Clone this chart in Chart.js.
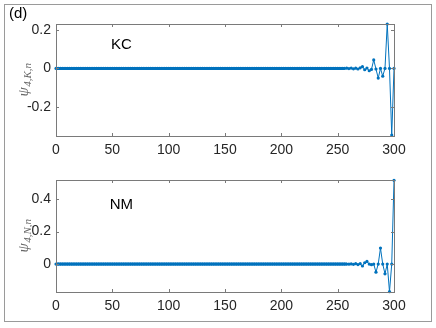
<!DOCTYPE html>
<html lang="en"><head>
  <meta charset="UTF-8">
  <title>psi 4 KC / NM</title>
  <script src="https://cdn.jsdelivr.net/npm/chart.js"></script>
  <style>
    body { margin: 0; background: #fff; }
    #frame {
      position: absolute; left: 4px; top: 4px; width: 426px; height: 316px;
      border: 1px solid #9a9a9a;
    }
    #tag {
      position: absolute; left: 9px; top: 4px;
      font: 15px "Liberation Sans", Arial, sans-serif; color: #000;
    }
    canvas { position: absolute; left: 0; }
    #c1 { top: 0; }
    #c2 { top: 160px; }
  </style>
</head><body>
<div id="frame"></div>
<canvas id="c1" width="436" height="160"></canvas>
<canvas id="c2" width="436" height="168"></canvas>
<div id="tag">(d)</div>
<script>
  // site index n (every second site), most components are zero
  const sites = [];
  for (let i = 0; i <= 300; i += 2) sites.push(i);

  // nonzero tail, n = 256..300
  const tailSites = [256, 258, 260, 262, 264, 266, 268, 270, 272, 274, 276, 278,
                     280, 282, 284, 286, 288, 290, 292, 294, 296, 298, 300];
  const kcTail = [0, 0.001, -0.001, 0.002, -0.002, 0.001, -0.003, 0.003, 0.009, -0.007, 0.002, -0.012,
                  -0.005, 0.044, -0.003, -0.05, 0, -0.04, 0, 0.23, 0, -0.345, 0];
  const nmTail = [0, 0, -0.001, 0.001, -0.002, 0.002, -0.003, 0.002, -0.012, 0.008, 0.016, 0,
                  -0.004, 0, -0.05, 0, 0.098, 0, -0.06, 0, -0.17, 0, 0.515];

  const xTicks = [0, 50, 100, 150, 200, 250, 300];
  const kcYTicks = [-0.2, 0, 0.2];
  const nmYTicks = [0, 0.2, 0.4];

  function series(tail) {
    return sites.map(n => {
      const k = tailSites.indexOf(n);
      return { x: n, y: k >= 0 ? tail[k] : 0 };
    });
  }

  const blue = '#0072BD';
  const axisGrey = '#7a7a7a';
  const labelFont = { family: 'Liberation Sans', size: 14 };

  // box + inward ticks + y title + panel label, MATLAB style
  const boxPlugin = {
    id: 'box',
    afterDraw(chart, args, opts) {
      const { ctx, chartArea: a, scales } = chart;
      ctx.save();
      ctx.strokeStyle = axisGrey;
      ctx.lineWidth = 1;
      ctx.strokeRect(Math.round(a.left) + 0.5, Math.round(a.top) + 0.5,
                     Math.round(a.right - a.left), Math.round(a.bottom - a.top));
      ctx.beginPath();
      xTicks.forEach(t => {
        const x = Math.round(scales.x.getPixelForValue(t)) + 0.5;
        ctx.moveTo(x, a.bottom); ctx.lineTo(x, a.bottom - 3);
        ctx.moveTo(x, a.top); ctx.lineTo(x, a.top + 3);
      });
      opts.yTicks.forEach(t => {
        const y = Math.round(scales.y.getPixelForValue(t)) + 0.5;
        ctx.moveTo(a.left, y); ctx.lineTo(a.left + 3, y);
        ctx.moveTo(a.right, y); ctx.lineTo(a.right - 3, y);
      });
      ctx.stroke();

      // y axis title psi_{4,X,n}
      ctx.translate(25, (a.top + a.bottom) / 2);
      ctx.rotate(-Math.PI / 2);
      ctx.fillStyle = '#666';
      ctx.textBaseline = 'alphabetic';
      ctx.font = 'italic 15px "Liberation Serif"';
      const w1 = ctx.measureText('ψ').width;
      ctx.font = 'italic 11px "Liberation Serif"';
      const w2 = ctx.measureText(opts.sub).width;
      const x0 = -(w1 + w2) / 2;
      ctx.font = 'italic 15px "Liberation Serif"';
      ctx.fillText('ψ', x0, 3);
      ctx.font = 'italic 11px "Liberation Serif"';
      ctx.fillText(opts.sub, x0 + w1 + 0.5, 6);
      ctx.restore();

      // panel label inside the axes
      ctx.save();
      ctx.font = '15px "Liberation Sans"';
      ctx.fillStyle = '#000';
      ctx.textAlign = 'center';
      ctx.textBaseline = 'middle';
      ctx.fillText(opts.name, scales.x.getPixelForValue(opts.at[0]), scales.y.getPixelForValue(opts.at[1]));
      ctx.restore();
    }
  };

  function makeChart(id, tail, yMin, yMax, yTicks, top, bottom, name, sub, at) {
    return new Chart(document.getElementById(id), {
      type: 'line',
      data: {
        datasets: [{
          data: series(tail),
          borderColor: blue,
          backgroundColor: blue,
          borderWidth: 1,
          // the dense run of markers on the flat part merges into a thick line
          segment: {
            borderWidth: c => (c.p0.parsed.y === 0 && c.p1.parsed.y === 0) ? 3 : 1
          },
          pointRadius: 1.6,
          pointBorderWidth: 0,
          pointHoverRadius: 0,
          tension: 0,
          clip: false
        }]
      },
      options: {
        responsive: false,
        animation: false,
        events: [],
        layout: { padding: { left: 0, right: 42, top: top, bottom: bottom } },
        plugins: {
          legend: { display: false },
          tooltip: { enabled: false },
          box: { yTicks: yTicks, name: name, sub: sub, at: at }
        },
        scales: {
          x: {
            type: 'linear', min: 0, max: 300,
            grid: { display: false, drawTicks: false },
            border: { display: false },
            afterBuildTicks: s => { s.ticks = xTicks.map(v => ({ value: v })); },
            afterFit: s => { s.height = 24; },
            ticks: { color: '#262626', font: labelFont, padding: 6, maxRotation: 0 }
          },
          y: {
            min: yMin, max: yMax,
            grid: { display: false, drawTicks: false },
            border: { display: false },
            afterBuildTicks: s => { s.ticks = yTicks.map(v => ({ value: v })); },
            afterFit: s => { s.width = 56; },
            ticks: { color: '#262626', font: labelFont, padding: 5 }
          }
        }
      },
      plugins: [boxPlugin]
    });
  }

  makeChart('c1', kcTail, -0.35, 0.23, kcYTicks, 24, 0, 'KC', '4,K,n', [58, 0.123]);
  makeChart('c2', nmTail, -0.172, 0.517, nmYTicks, 20, 12, 'NM', '4,N,n', [58, 0.363]);
</script>
</body></html>
